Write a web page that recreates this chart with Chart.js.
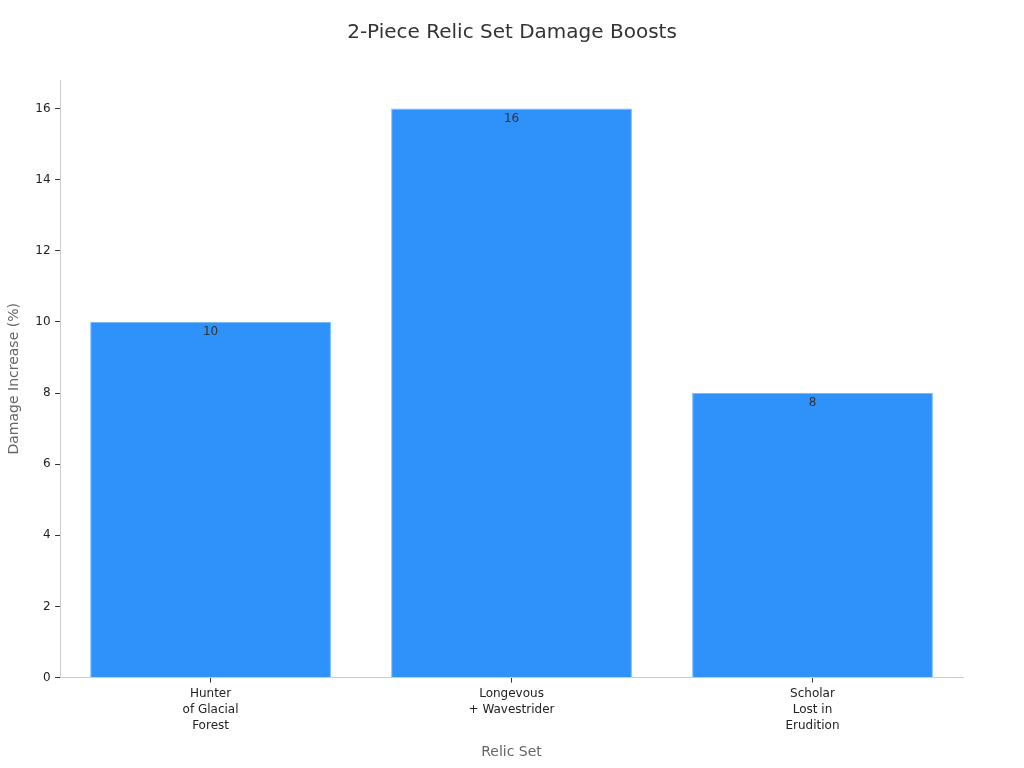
<!DOCTYPE html>
<html>
<head>
<meta charset="utf-8">
<script src="https://cdn.jsdelivr.net/npm/chart.js@4"></script>
<style>
  html, body { margin: 0; padding: 0; background: #fff; }
  #wrap { width: 1024px; height: 768px; }
</style>
</head>
<body>
<div id="wrap"><canvas id="relic-chart"></canvas></div>
<script>
// data
const chartTitle = "2-Piece Relic Set Damage Boosts";
const relicSets = [["Hunter", "of Glacial", "Forest"], ["Longevous", "+ Wavestrider"], ["Scholar", "Lost in", "Erudition"]];
const damageBoost = [10, 16, 8];
const yTicks = [0, 2, 4, 6, 8, 10, 12, 14, 16];

Chart.defaults.font.family = "'DejaVu Sans', sans-serif";

// title centred on the whole canvas, value labels under bar tops
const extras = {
  id: "extras",
  afterDraw(chart) {
    const ctx = chart.ctx;
    ctx.save();
    ctx.font = "20px 'DejaVu Sans', sans-serif";
    ctx.fillStyle = "#333333";
    ctx.textAlign = "center";
    ctx.textBaseline = "middle";
    ctx.fillText(chartTitle, chart.width / 2, 33);

    const meta = chart.getDatasetMeta(0);
    ctx.font = "12px 'DejaVu Sans', sans-serif";
    ctx.textBaseline = "top";
    meta.data.forEach((bar, i) => {
      ctx.fillText(String(damageBoost[i]), bar.x, bar.y + 4);
    });
    ctx.restore();
  },
};

const data = {
  labels: relicSets,
  datasets: [
    {
      data: damageBoost,
      backgroundColor: "rgb(46, 146, 250)",
      borderColor: "rgb(120, 185, 250)",
      borderWidth: 1,
      categoryPercentage: 0.8,
      barPercentage: 1,
    },
  ],
};

const config = {
  type: "bar",
  data: data,
  options: {
    responsive: true,
    maintainAspectRatio: false,
    animation: false,
    layout: {
      padding: { left: 2, right: 61, top: 80, bottom: 3 },
    },
    scales: {
      x: {
        grid: { display: true, offset: false, drawOnChartArea: false, drawTicks: true, tickLength: 5, color: "#333333" },
        border: { display: true, color: "#cccccc" },
        ticks: { color: "#222222", font: { size: 12, lineHeight: 1.35 }, maxRotation: 0, autoSkip: false, padding: 3 },
        title: { display: true, text: "Relic Set", color: "#666666", font: { size: 14 }, padding: { top: 7 } },
      },
      y: {
        min: 0,
        max: 16.8,
        afterBuildTicks: (axis) => {
          axis.ticks = yTicks.map((v) => ({ value: v }));
        },
        grid: { display: true, drawOnChartArea: false, drawTicks: true, tickLength: 5, color: "#333333" },
        border: { display: true, color: "#cccccc" },
        ticks: { color: "#222222", font: { size: 12 }, padding: 4.5 },
        title: { display: true, text: "Damage Increase (%)", color: "#666666", font: { size: 14 }, padding: { bottom: 8 } },
      },
    },
    plugins: {
      legend: { display: false },
      tooltip: { enabled: false },
      title: { display: false },
    },
  },
  plugins: [extras],
};

const myChart = new Chart(document.getElementById("relic-chart"), config);
</script>
</body>
</html>
